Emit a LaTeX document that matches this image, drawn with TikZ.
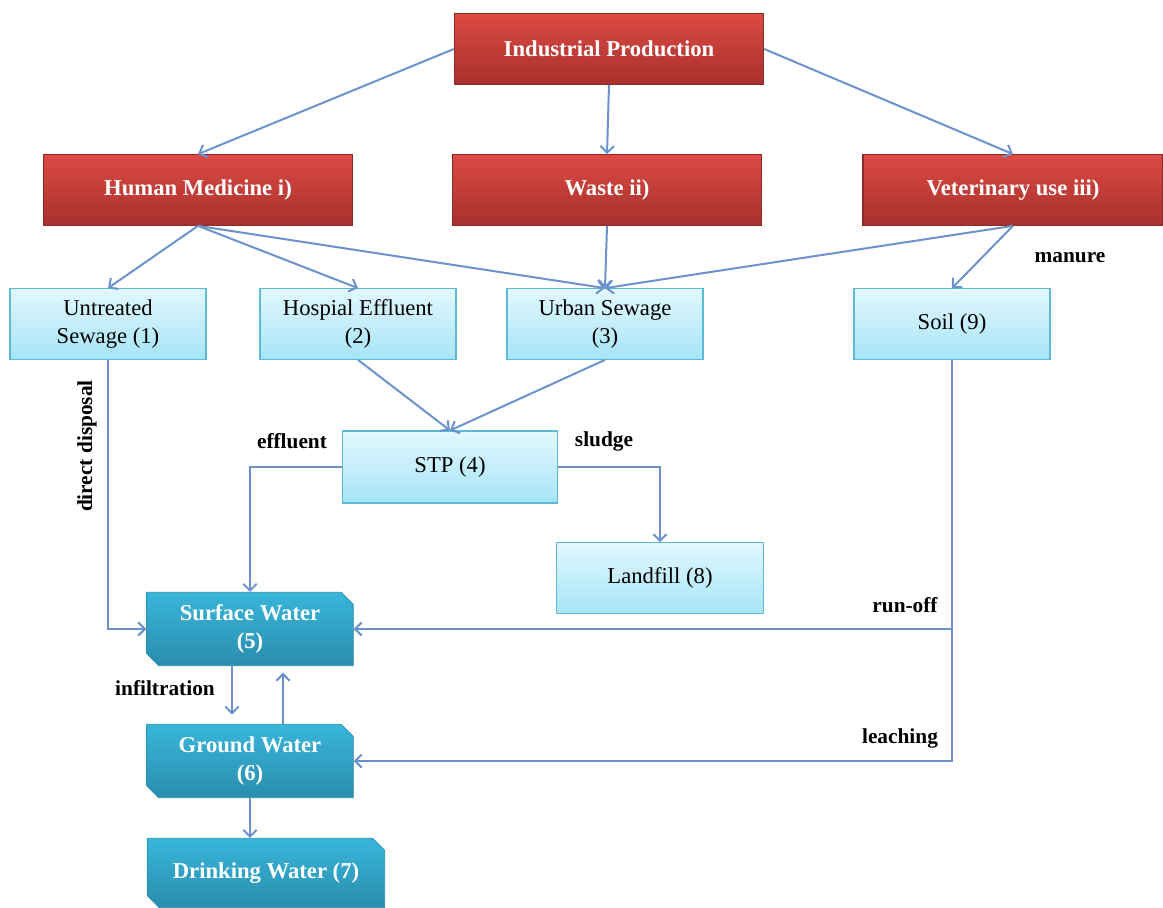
\documentclass[tikz,border=0pt]{standalone}
\usepackage{fontspec}
\setmainfont{Liberation Serif}
\usetikzlibrary{arrows.meta,shapes.misc}
\definecolor{redtop}{HTML}{DC4A43}
\definecolor{redbot}{HTML}{A8302D}
\definecolor{redline}{HTML}{8C2A27}
\definecolor{skytop}{HTML}{E2F8FE}
\definecolor{skybot}{HTML}{A6E4F7}
\definecolor{skyline}{HTML}{5DB9D8}
\definecolor{seatop}{HTML}{38B6DA}
\definecolor{seabot}{HTML}{2A8DAD}
\definecolor{flow}{HTML}{6C92CB}
\begin{document}
\begin{tikzpicture}[x=0.75pt,y=-0.75pt,
	source/.style={draw=redline, line width=0.8pt, top color=redtop, bottom color=redbot, text=white, font=\fontsize{17}{20}\selectfont\bfseries, minimum width=232pt, minimum height=53pt, inner sep=0pt},
	route/.style={draw=skyline, line width=0.8pt, top color=skytop, bottom color=skybot, align=center, font=\fontsize{17}{21}\selectfont, minimum width=147pt, minimum height=53pt, inner sep=0pt},
	water/.style={chamfered rectangle, chamfered rectangle corners={north east,south west}, chamfered rectangle xsep=6pt, draw=seabot, line width=0.6pt, top color=seatop, bottom color=seabot, text=white, align=center, font=\fontsize{17}{21}\selectfont\bfseries, minimum width=155pt, minimum height=55pt, inner sep=0pt},
	flowline/.style={draw=flow, line width=1.5pt, -{Straight Barb[length=5pt,width=10pt]}},
	tag/.style={font=\fontsize{16}{18}\selectfont\bfseries}]
	\useasboundingbox (0,0) rectangle (1163,907);

	\node [source] (ind) at (609,49) {Industrial Production};
	\node [source] (hm) at (198,190) {Human Medicine i)};
	\node [source] (waste) at (607,190) {Waste ii)};
	\node [source, minimum width=225pt] (vet) at (1013,190) {Veterinary use iii)};

	\node [route] (untreated) at (108,324) {Untreated\\Sewage (1)};
	\node [route] (hospial) at (358,324) {Hospial Effluent\\(2)};
	\node [route] (urban) at (605,324) {Urban Sewage\\(3)};
	\node [route] (soil) at (952,324) {Soil (9)};
	\node [route, minimum width=161pt, minimum height=54pt] (stp) at (450,467) {STP (4)};
	\node [route, minimum width=155pt] (landfill) at (660,578) {Landfill (8)};

	\node [water] (surface) at (250,629) {Surface Water\\(5)};
	\node [water] (ground) at (250,761) {Ground Water\\(6)};
	\node [water, minimum width=178pt, minimum height=52pt] (drinking) at (266,873) {Drinking Water (7)};

	\draw [flowline] (ind.west) -- (hm.north);
	\draw [flowline] (ind.south) -- (waste.north);
	\draw [flowline] (ind.east) -- (vet.north);

	\draw [flowline] (hm.south) -- (untreated.north);
	\draw [flowline] (hm.south) -- (hospial.north);
	\draw [flowline] (hm.south) -- (urban.north);
	\draw [flowline] (waste.south) -- (urban.north);
	\draw [flowline] (vet.south) -- (urban.north);
	\draw [flowline] (vet.south) -- (soil.north);
	\node [tag] (manure) at (1070,258) {manure};

	\draw [flowline] (hospial.south) -- (stp.north);
	\draw [flowline] (urban.south) -- (stp.north);

	\draw [flowline] (stp.west) -| (surface.north);
	\node [tag] (effluent) at (292,441) {effluent};
	\draw [flowline] (stp.east) -| (landfill.north);
	\node [tag] (sludge) at (604,441) {sludge};

	\draw [flowline] (untreated.south) |- (surface.west);
	\node [tag, rotate=90] (disposal) at (87,446) {direct disposal};

	\coordinate (runoff) at (soil.south |- surface.east);
	\draw [flowline] (soil.south) |- (ground.east);
	\draw [flowline] (runoff) -- (surface.east);
	\node [tag] (runofftag) at (905,605) {run-off};
	\node [tag] (leaching) at (900,738) {leaching};

	\draw [flowline, shorten >=7pt] ([xshift=-13.5pt]surface.south) -- ([xshift=-13.5pt]ground.north);
	\node [tag] (infil) at (165,688) {infiltration};
	\draw [flowline, shorten >=5pt] ([xshift=24.75pt]ground.north) -- ([xshift=24.75pt]surface.south);
	\draw [flowline] (ground.south) -- (ground.south |- drinking.north);
\end{tikzpicture}
\end{document}
